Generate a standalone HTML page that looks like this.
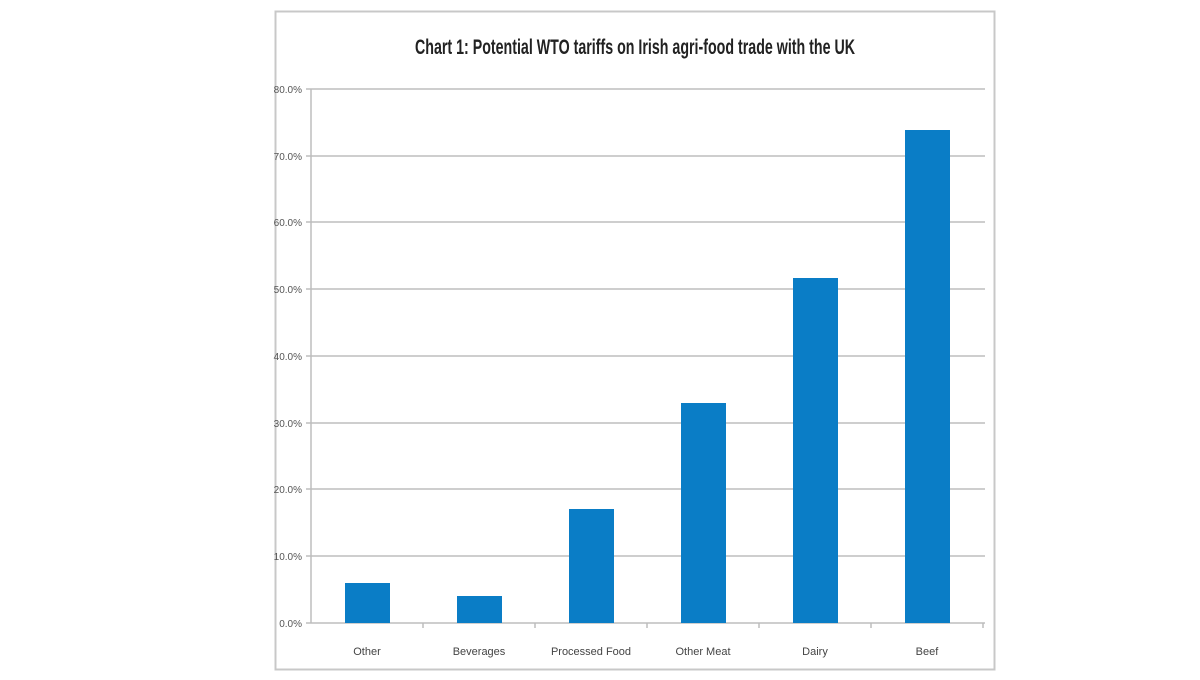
<!DOCTYPE html>
<html><head><style>
body{margin:0;background:#fff;width:1200px;height:675px;overflow:hidden;font-family:"Liberation Sans Narrow","Liberation Sans",sans-serif;}
</style></head><body>
<svg width="1200" height="675" xmlns="http://www.w3.org/2000/svg" font-family="Liberation Sans Narrow, Liberation Sans, sans-serif">
<rect x="275.5" y="11.5" width="719" height="658" fill="#fff" stroke="#c8c8c8" stroke-width="2"/>
<text x="415" y="54" font-size="21" font-weight="bold" fill="#222" textLength="440" lengthAdjust="spacingAndGlyphs">Chart 1: Potential WTO tariffs on Irish agri-food trade with the UK</text>
<g stroke="#bdbdbd" stroke-width="1.5">
<line x1="306" y1="89" x2="985" y2="89"/>
<line x1="306" y1="156" x2="985" y2="156"/>
<line x1="306" y1="222" x2="985" y2="222"/>
<line x1="306" y1="289" x2="985" y2="289"/>
<line x1="306" y1="356" x2="985" y2="356"/>
<line x1="306" y1="423" x2="985" y2="423"/>
<line x1="306" y1="489" x2="985" y2="489"/>
<line x1="306" y1="556" x2="985" y2="556"/>
<line x1="306" y1="623" x2="985" y2="623"/>
<line x1="311" y1="89" x2="311" y2="623"/>
<line x1="423" y1="623" x2="423" y2="628"/><line x1="535" y1="623" x2="535" y2="628"/><line x1="647" y1="623" x2="647" y2="628"/><line x1="759" y1="623" x2="759" y2="628"/><line x1="871" y1="623" x2="871" y2="628"/><line x1="983" y1="623" x2="983" y2="628"/>
</g>
<g font-size="10" fill="#555" text-anchor="end">
<text x="302" y="93">80.0%</text><text x="302" y="160">70.0%</text><text x="302" y="226">60.0%</text><text x="302" y="293">50.0%</text><text x="302" y="360">40.0%</text><text x="302" y="427">30.0%</text><text x="302" y="493">20.0%</text><text x="302" y="560">10.0%</text><text x="302" y="627">0.0%</text>
</g>
<g fill="#0a7dc6">
<rect x="345" y="583" width="45" height="40"/>
<rect x="457" y="596" width="45" height="27"/>
<rect x="569" y="509" width="45" height="114"/>
<rect x="681" y="403" width="45" height="220"/>
<rect x="793" y="278" width="45" height="345"/>
<rect x="905" y="130" width="45" height="493"/>
</g>
<g font-size="11" fill="#444" text-anchor="middle">
<text x="367" y="655">Other</text><text x="479" y="655">Beverages</text><text x="591" y="655">Processed Food</text><text x="703" y="655">Other Meat</text><text x="815" y="655">Dairy</text><text x="927" y="655">Beef</text>
</g>
</svg>
</body></html>
